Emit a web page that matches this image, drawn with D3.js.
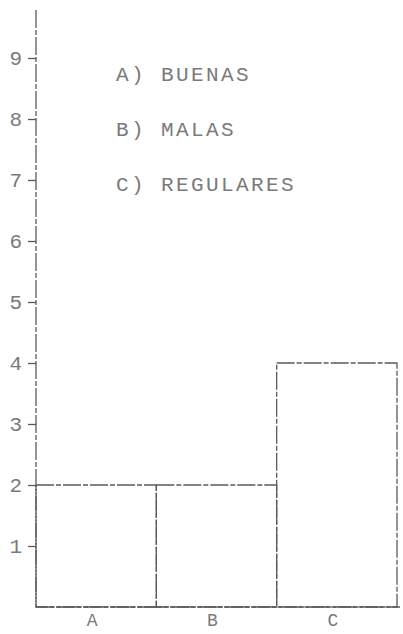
<!DOCTYPE html>
<html>
<head>
<meta charset="utf-8">
<script src="https://cdn.jsdelivr.net/npm/d3@7"></script>
<style>
  body { margin: 0; background: #fff; }
  svg { display: block; }
</style>
</head>
<body>
<svg id="svg-main" width="403" height="634"></svg>
<script>
// categorias y frecuencias
var categories = ["A", "B", "C"];
var values = [2, 2, 4];
var legendItems = ["A) BUENAS", "B) MALAS", "C) REGULARES"];
var yTicks = [1, 2, 3, 4, 5, 6, 7, 8, 9];

var svg = d3.select("#svg-main");
var ink = "#5a5a5a";
var textInk = "#7a7a7a";
var dash = "18,2,5,2";

var x = d3.scaleBand()
    .domain(categories)
    .range([36, 397])
    .padding(0);

var y = d3.scaleLinear()
    .domain([0, 9])
    .range([607, 58]);

// barras
svg.selectAll("rect.bar")
    .data(categories)
    .enter()
    .append("rect")
    .attr("class", "bar")
    .attr("x", function(d) { return x(d); })
    .attr("y", function(d, i) { return y(values[i]); })
    .attr("width", x.bandwidth())
    .attr("height", function(d, i) { return y(0) - y(values[i]); })
    .attr("fill", "none")
    .attr("stroke", ink)
    .attr("stroke-width", 1.3)
    .attr("stroke-dasharray", dash);

// eje y
var yAxis = d3.axisLeft(y)
    .tickValues(yTicks)
    .tickSize(8)
    .tickPadding(6)
    .tickFormat(d3.format("d"));

var gy = svg.append("g")
    .attr("transform", "translate(36,0)")
    .call(yAxis);
gy.select(".domain").remove();
gy.selectAll(".tick line")
    .attr("stroke", ink)
    .attr("stroke-width", 1.3);
gy.selectAll(".tick text")
    .attr("fill", textInk)
    .attr("font-family", "Liberation Mono, monospace")
    .style("font-size", "21px");

svg.append("line")
    .attr("x1", 36).attr("x2", 36)
    .attr("y1", 10).attr("y2", y(0))
    .attr("stroke", ink)
    .attr("stroke-width", 1.3)
    .attr("stroke-dasharray", dash);

// eje x
var xAxis = d3.axisBottom(x)
    .tickSize(0)
    .tickPadding(6);

var gx = svg.append("g")
    .attr("transform", "translate(-4," + y(0) + ")")
    .call(xAxis);
gx.select(".domain").remove();
gx.selectAll(".tick text")
    .attr("fill", textInk)
    .attr("font-family", "Liberation Mono, monospace")
    .style("font-size", "18px");

svg.append("line")
    .attr("x1", 36).attr("x2", 400)
    .attr("y1", y(0)).attr("y2", y(0))
    .attr("stroke", ink)
    .attr("stroke-width", 1.3)
    .attr("stroke-dasharray", dash);

// leyenda
svg.selectAll("text.legend")
    .data(legendItems)
    .enter()
    .append("text")
    .attr("class", "legend")
    .attr("x", 116)
    .attr("y", function(d, i) { return y(8.62 - i * 0.9); })
    .attr("fill", textInk)
    .attr("font-family", "Liberation Mono, monospace")
    .style("font-size", "21px")
    .style("letter-spacing", "2.4px")
    .text(function(d) { return d; });
</script>
</body>
</html>
